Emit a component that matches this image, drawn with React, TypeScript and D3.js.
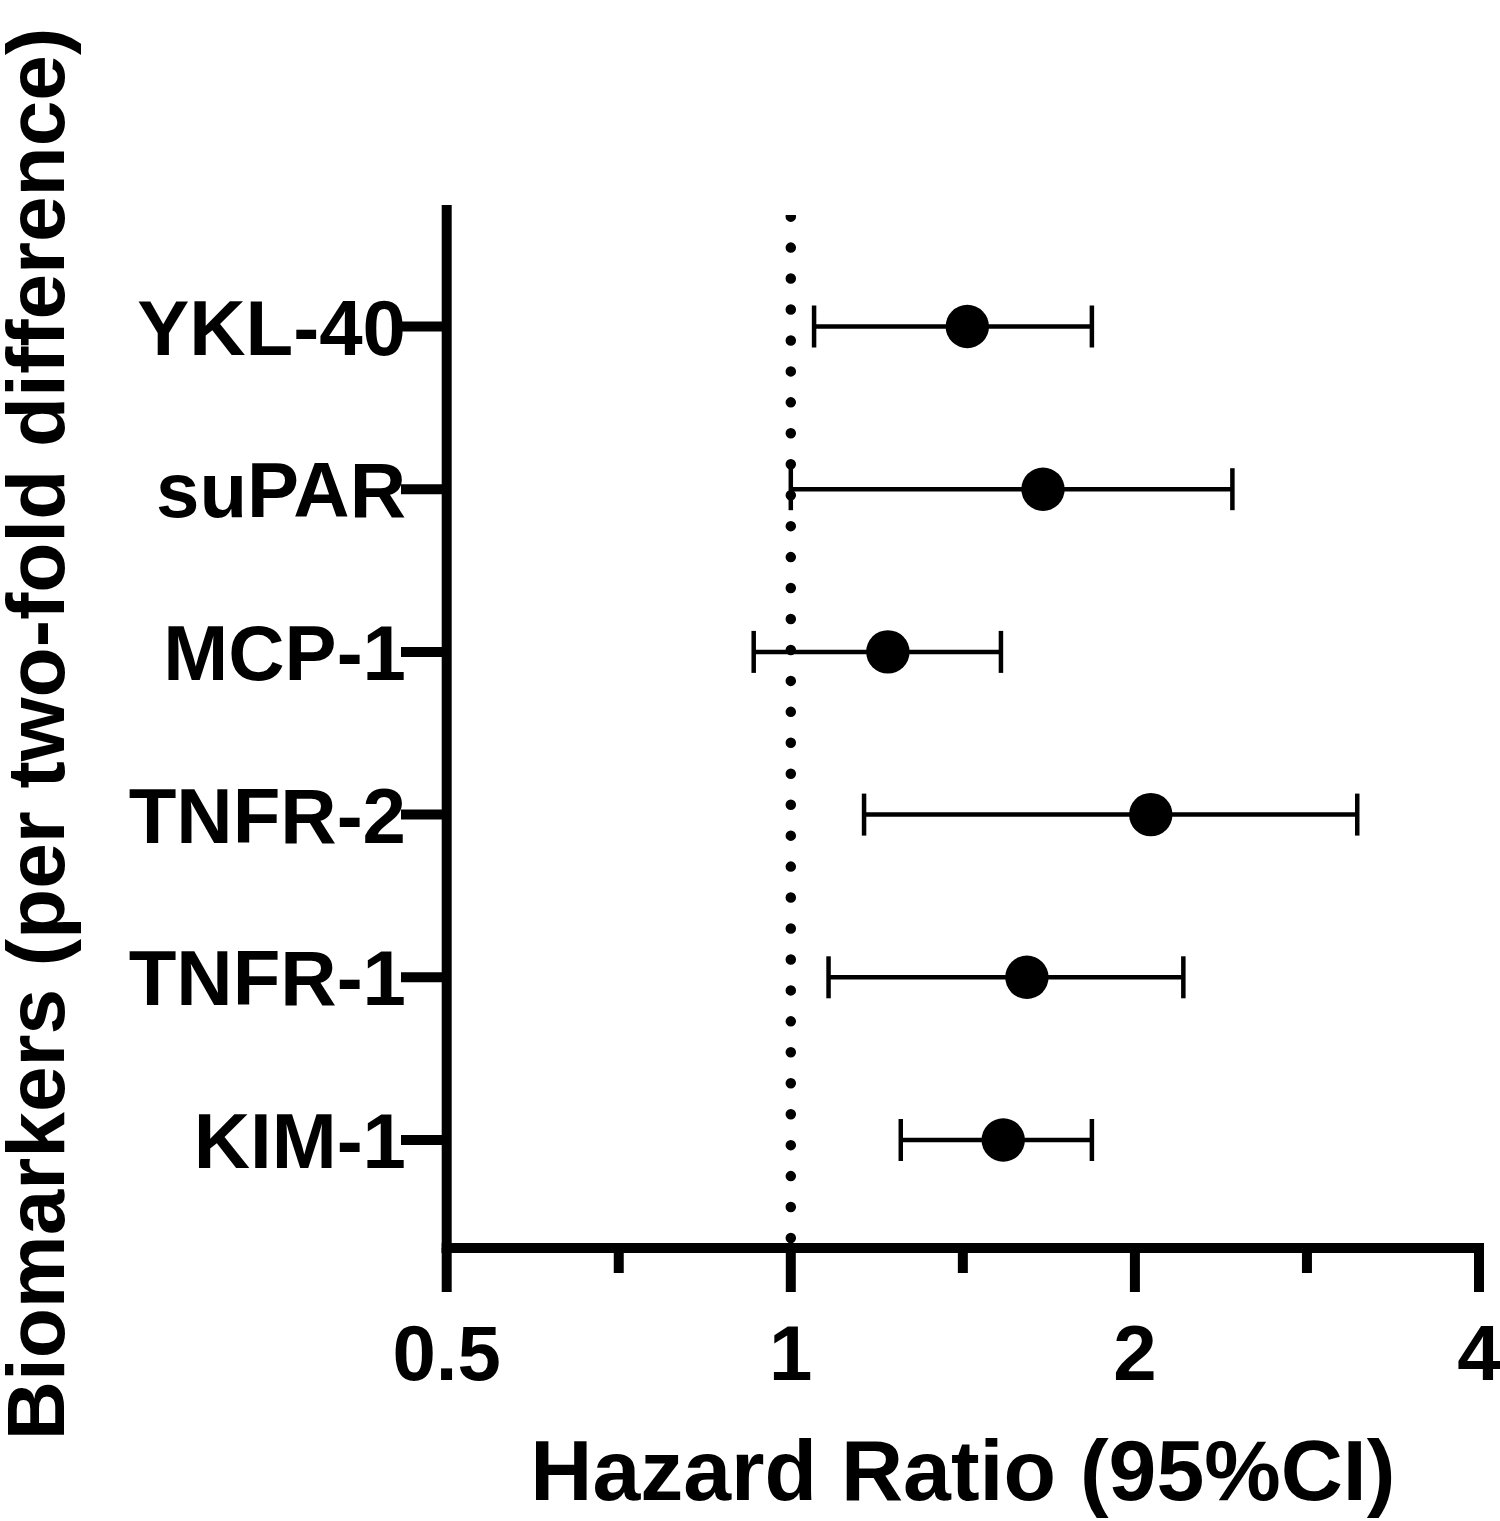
import React, { useEffect, useRef } from 'react';
import * as d3 from 'd3';

// Hazard ratios (95% CI)
const biomarkers = ["YKL-40", "suPAR", "MCP-1", "TNFR-2", "TNFR-1", "KIM-1"];
const hazardRatio = [1.427, 1.662, 1.216, 2.065, 1.609, 1.534];
const ciLower = [1.048, 1.0, 0.928, 1.159, 1.079, 1.248];
const ciUpper = [1.834, 2.434, 1.527, 3.13, 2.205, 1.834];

const majorTicks = [0.5, 1, 2, 4];
const minorTicks = [Math.SQRT1_2, Math.SQRT2, 2 * Math.SQRT2];
const tickLabels = ["0.5", "1", "2", "4"];

const xTitle = "Hazard Ratio (95%CI)";
const yTitle = "Biomarkers (per two-fold difference)";

const App: React.FC = () => {
  const svgRef = useRef<SVGSVGElement | null>(null);

  useEffect(() => {
    const width = 1500;
    const height = 1521;
    const axisLeft = 446.7;
    const axisRight = 1479;
    const axisTop = 210;
    const axisBottom = 1248;
    const font = "'Liberation Sans', Arial, sans-serif";

    const svg = d3.select(svgRef.current);
    svg.selectAll("*").remove();
    svg.attr("viewBox", [0, 0, width, height]);

    const x = d3.scaleLog().domain([0.5, 4]).range([axisLeft, axisRight]);
    const y = d3.scalePoint<string>().domain(biomarkers).range([326.5, 1140]);

    // dotted reference line at HR = 1
    svg.append("clipPath").attr("id", "refclip")
      .append("rect").attr("x", 0).attr("y", 215).attr("width", width).attr("height", axisBottom - 215);

    svg.append("line")
      .attr("clip-path", "url(#refclip)")
      .attr("x1", x(1)).attr("x2", x(1))
      .attr("y1", 1238).attr("y2", axisTop)
      .attr("stroke", "#000")
      .attr("stroke-width", 10.5)
      .attr("stroke-linecap", "round")
      .attr("stroke-dasharray", "0 30.95");

    // axes
    svg.append("line")
      .attr("x1", axisLeft).attr("x2", axisLeft)
      .attr("y1", axisTop).attr("y2", axisBottom)
      .attr("stroke", "#000").attr("stroke-width", 10).attr("stroke-linecap", "square");

    svg.append("line")
      .attr("x1", axisLeft).attr("x2", axisRight)
      .attr("y1", axisBottom).attr("y2", axisBottom)
      .attr("stroke", "#000").attr("stroke-width", 10).attr("stroke-linecap", "square");

    svg.append("g")
      .selectAll("line")
      .data(majorTicks)
      .join("line")
      .attr("x1", d => x(d)).attr("x2", d => x(d))
      .attr("y1", axisBottom).attr("y2", 1292)
      .attr("stroke", "#000").attr("stroke-width", 10);

    svg.append("g")
      .selectAll("line")
      .data(minorTicks)
      .join("line")
      .attr("x1", d => x(d)).attr("x2", d => x(d))
      .attr("y1", axisBottom).attr("y2", 1273)
      .attr("stroke", "#000").attr("stroke-width", 10);

    svg.append("g")
      .selectAll("text")
      .data(majorTicks)
      .join("text")
      .attr("x", d => x(d))
      .attr("y", 1380)
      .attr("text-anchor", "middle")
      .attr("font-family", font)
      .attr("font-weight", "bold")
      .attr("font-size", 78)
      .text((d, i) => tickLabels[i]);

    // category ticks and labels
    svg.append("g")
      .selectAll("line")
      .data(biomarkers)
      .join("line")
      .attr("x1", 401).attr("x2", axisLeft)
      .attr("y1", d => y(d)!).attr("y2", d => y(d)!)
      .attr("stroke", "#000").attr("stroke-width", 10);

    svg.append("g")
      .selectAll("text")
      .data(biomarkers)
      .join("text")
      .attr("x", 406)
      .attr("y", d => y(d)!)
      .attr("dy", 28)
      .attr("text-anchor", "end")
      .attr("font-family", font)
      .attr("font-weight", "bold")
      .attr("font-size", 78)
      .text(d => d);

    // error bars
    const rows = svg.append("g")
      .selectAll("g")
      .data(biomarkers)
      .join("g")
      .attr("stroke", "#000")
      .attr("stroke-width", 4.5);

    rows.append("line")
      .attr("x1", (d, i) => x(ciLower[i])).attr("x2", (d, i) => x(ciUpper[i]))
      .attr("y1", d => y(d)!).attr("y2", d => y(d)!);

    rows.append("line")
      .attr("x1", (d, i) => x(ciLower[i])).attr("x2", (d, i) => x(ciLower[i]))
      .attr("y1", d => y(d)! - 21).attr("y2", d => y(d)! + 21);

    rows.append("line")
      .attr("x1", (d, i) => x(ciUpper[i])).attr("x2", (d, i) => x(ciUpper[i]))
      .attr("y1", d => y(d)! - 21).attr("y2", d => y(d)! + 21);

    rows.append("circle")
      .attr("cx", (d, i) => x(hazardRatio[i]))
      .attr("cy", d => y(d)!)
      .attr("r", 21.7)
      .attr("fill", "#000")
      .attr("stroke", "none");

    // titles
    svg.append("text")
      .attr("x", (axisLeft + axisRight) / 2)
      .attr("y", 1500)
      .attr("text-anchor", "middle")
      .attr("font-family", font)
      .attr("font-weight", "bold")
      .attr("font-size", 86)
      .text(xTitle);

    svg.append("text")
      .attr("transform", `translate(64,${734}) rotate(-90)`)
      .attr("text-anchor", "middle")
      .attr("font-family", font)
      .attr("font-weight", "bold")
      .attr("font-size", 82)
      .text(yTitle);
  }, []);

  return (
    <svg
      ref={svgRef}
      width={1500}
      height={1521}
      style={{ position: "absolute", left: 0, top: 0, background: "#fff" }}
    ></svg>
  );
};

export default App;
